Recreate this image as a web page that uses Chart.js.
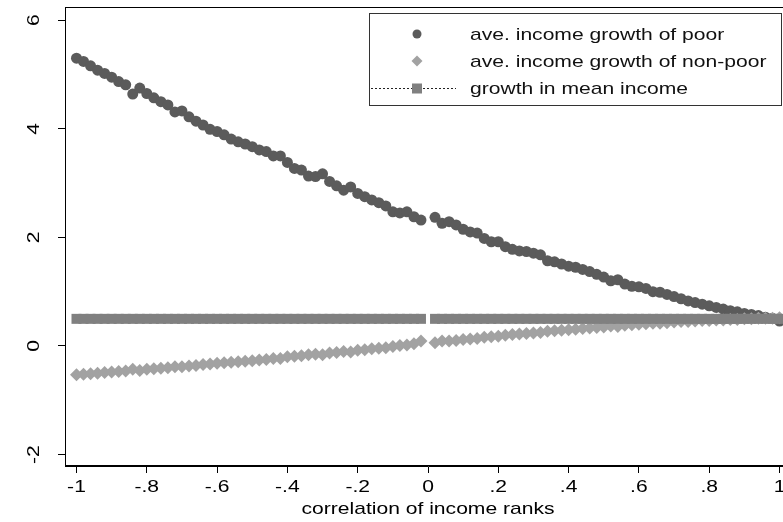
<!DOCTYPE html>
<html>
<head>
<meta charset="utf-8">
<script src="https://cdn.jsdelivr.net/npm/chart.js@4/dist/chart.umd.min.js"></script>
<style>
  html, body { margin: 0; padding: 0; background: #ffffff; overflow: hidden; }
  #chart { display: block; }
</style>
</head>
<body>
<canvas id="chart" width="792" height="522"></canvas>
<script>
// correlation of income ranks (x); the point at 0 is missing in every series
const rankCorr = [
  -1, -0.98, -0.96, -0.94, -0.92, -0.9, -0.88, -0.86, -0.84, -0.82,
  -0.8, -0.78, -0.76, -0.74, -0.72, -0.7, -0.68, -0.66, -0.64, -0.62,
  -0.6, -0.58, -0.56, -0.54, -0.52, -0.5, -0.48, -0.46, -0.44, -0.42,
  -0.4, -0.38, -0.36, -0.34, -0.32, -0.3, -0.28, -0.26, -0.24, -0.22,
  -0.2, -0.18, -0.16, -0.14, -0.12, -0.1, -0.08, -0.06, -0.04, -0.02,
  0,
  0.02, 0.04, 0.06, 0.08, 0.1, 0.12, 0.14, 0.16, 0.18, 0.2,
  0.22, 0.24, 0.26, 0.28, 0.3, 0.32, 0.34, 0.36, 0.38, 0.4,
  0.42, 0.44, 0.46, 0.48, 0.5, 0.52, 0.54, 0.56, 0.58, 0.6,
  0.62, 0.64, 0.66, 0.68, 0.7, 0.72, 0.74, 0.76, 0.78, 0.8,
  0.82, 0.84, 0.86, 0.88, 0.9, 0.92, 0.94, 0.96, 0.98, 1
];

// ave. income growth of poor
const growthPoor = [
  5.30, 5.24, 5.16, 5.08, 5.02, 4.95, 4.87, 4.81, 4.64, 4.75,
  4.65, 4.57, 4.50, 4.44, 4.31, 4.33, 4.22, 4.14, 4.07, 3.99,
  3.95, 3.89, 3.81, 3.76, 3.72, 3.67, 3.61, 3.58, 3.50, 3.50,
  3.38, 3.27, 3.24, 3.13, 3.12, 3.17, 3.03, 2.95, 2.87, 2.93,
  2.81, 2.75, 2.69, 2.64, 2.58, 2.47, 2.45, 2.47, 2.38, 2.32,
  null,
  2.37, 2.26, 2.29, 2.23, 2.15, 2.10, 2.08, 1.98, 1.92, 1.92,
  1.83, 1.78, 1.75, 1.74, 1.71, 1.68, 1.57, 1.55, 1.51, 1.47,
  1.45, 1.41, 1.37, 1.32, 1.27, 1.20, 1.22, 1.14, 1.10, 1.09,
  1.06, 1.00, 0.99, 0.95, 0.91, 0.87, 0.83, 0.80, 0.77, 0.74,
  0.71, 0.68, 0.65, 0.63, 0.60, 0.58, 0.56, 0.53, 0.51, 0.46
];

// ave. income growth of non-poor
const growthNonPoor = [
  -0.53, -0.52, -0.51, -0.50, -0.49, -0.48, -0.47, -0.46, -0.43, -0.45,
  -0.43, -0.42, -0.41, -0.40, -0.38, -0.38, -0.37, -0.36, -0.34, -0.33,
  -0.32, -0.31, -0.30, -0.29, -0.28, -0.27, -0.26, -0.25, -0.23, -0.23,
  -0.20, -0.19, -0.18, -0.16, -0.15, -0.16, -0.13, -0.12, -0.10, -0.11,
  -0.08, -0.07, -0.05, -0.04, -0.03, -0.01, 0.01, 0.02, 0.04, 0.09,
  null,
  0.06, 0.09, 0.09, 0.10, 0.12, 0.13, 0.14, 0.16, 0.17, 0.18,
  0.20, 0.21, 0.22, 0.23, 0.24, 0.25, 0.27, 0.28, 0.29, 0.30,
  0.31, 0.32, 0.33, 0.34, 0.35, 0.37, 0.36, 0.38, 0.39, 0.40,
  0.41, 0.42, 0.42, 0.43, 0.44, 0.45, 0.45, 0.46, 0.47, 0.47,
  0.48, 0.48, 0.49, 0.49, 0.50, 0.50, 0.51, 0.51, 0.51, 0.52
];

// growth in mean income
const growthMean = [
  0.5, 0.5, 0.5, 0.5, 0.5, 0.5, 0.5, 0.5, 0.5, 0.5,
  0.5, 0.5, 0.5, 0.5, 0.5, 0.5, 0.5, 0.5, 0.5, 0.5,
  0.5, 0.5, 0.5, 0.5, 0.5, 0.5, 0.5, 0.5, 0.5, 0.5,
  0.5, 0.5, 0.5, 0.5, 0.5, 0.5, 0.5, 0.5, 0.5, 0.5,
  0.5, 0.5, 0.5, 0.5, 0.5, 0.5, 0.5, 0.5, 0.5, 0.5,
  null,
  0.5, 0.5, 0.5, 0.5, 0.5, 0.5, 0.5, 0.5, 0.5, 0.5,
  0.5, 0.5, 0.5, 0.5, 0.5, 0.5, 0.5, 0.5, 0.5, 0.5,
  0.5, 0.5, 0.5, 0.5, 0.5, 0.5, 0.5, 0.5, 0.5, 0.5,
  0.5, 0.5, 0.5, 0.5, 0.5, 0.5, 0.5, 0.5, 0.5, 0.5,
  0.5, 0.5, 0.5, 0.5, 0.5, 0.5, 0.5, 0.5, 0.5, 0.5
];

const seriesNames = [
  'ave. income growth of poor',
  'ave. income growth of non-poor',
  'growth in mean income'
];

const xTickValues = [-1, -0.8, -0.6, -0.4, -0.2, 0, 0.2, 0.4, 0.6, 0.8, 1];
const xTickLabels = ['-1', '-.8', '-.6', '-.4', '-.2', '0', '.2', '.4', '.6', '.8', '1'];
const yTickValues = [-2, 0, 2, 4, 6];
const yTickLabels = ['-2', '0', '2', '4', '6'];
const xTitle = 'correlation of income ranks';

const FONT = '"Liberation Sans", Arial, Helvetica, sans-serif';
const TEXT_STRETCH = 1.24;   // glyphs are drawn a little wider than the face
const COL_POOR = '#5b5b5b';
const COL_NONPOOR = '#a2a2a2';
const COL_MEAN = '#808080';

const toPoints = ys => rankCorr.map((x, i) => ({ x: x, y: ys[i] }));

// draw every text run horizontally widened about its anchor point
const wideText = {
  id: 'wideText',
  beforeInit(chart) {
    const ctx = chart.ctx;
    if (ctx.__wide) return;
    const plain = ctx.fillText.bind(ctx);
    ctx.fillText = function (text, x, y) {
      this.save();
      this.translate(x, y);
      this.scale(TEXT_STRETCH, 1);
      plain(text, 0, 0);
      this.restore();
    };
    ctx.__wide = true;
  }
};

// plot region outline (top and right edges; left/bottom come from the axes)
const frame = {
  id: 'frame',
  beforeDatasetsDraw(chart) {
    const { ctx, chartArea: a } = chart;
    ctx.save();
    ctx.strokeStyle = '#000';
    ctx.lineWidth = 1;
    ctx.strokeRect(Math.round(a.left) + 0.5, Math.round(a.top) + 0.5,
                   Math.round(a.right - a.left) - 1, Math.round(a.bottom - a.top) - 1);
    ctx.restore();
  }
};

// boxed legend in the upper right of the plot region
const boxLegend = {
  id: 'boxLegend',
  afterDatasetsDraw(chart) {
    const ctx = chart.ctx;
    const box = { x: 369.5, y: 13.5, w: 412, h: 92 };
    const mx = 417, tx = 470;
    const rows = [34, 61, 88];
    ctx.save();
    ctx.fillStyle = '#fff';
    ctx.fillRect(box.x, box.y, box.w, box.h);
    ctx.strokeStyle = '#333';
    ctx.lineWidth = 1;
    ctx.strokeRect(box.x, box.y, box.w, box.h);

    // circle
    ctx.fillStyle = COL_POOR;
    ctx.beginPath();
    ctx.arc(mx, rows[0], 4.5, 0, Math.PI * 2);
    ctx.fill();
    // diamond
    ctx.fillStyle = COL_NONPOOR;
    ctx.beginPath();
    ctx.moveTo(mx - 5.5, rows[1]);
    ctx.lineTo(mx, rows[1] - 5.5);
    ctx.lineTo(mx + 5.5, rows[1]);
    ctx.lineTo(mx, rows[1] + 5.5);
    ctx.closePath();
    ctx.fill();
    // dotted line with square
    ctx.strokeStyle = '#222';
    ctx.setLineDash([2, 2]);
    ctx.beginPath();
    ctx.moveTo(371, rows[2] + 0.5);
    ctx.lineTo(456, rows[2] + 0.5);
    ctx.stroke();
    ctx.setLineDash([]);
    ctx.fillStyle = COL_MEAN;
    ctx.fillRect(mx - 5, rows[2] - 4.5, 10, 10);

    ctx.fillStyle = '#111';
    ctx.font = '17px ' + FONT;
    ctx.textBaseline = 'middle';
    ctx.textAlign = 'left';
    seriesNames.forEach((name, i) => ctx.fillText(name, tx, rows[i] + 1));
    ctx.restore();
  }
};

new Chart(document.getElementById('chart'), {
  type: 'line',
  data: {
    datasets: [
      {
        label: seriesNames[0],
        data: toPoints(growthPoor),
        showLine: false,
        pointStyle: 'circle',
        pointRadius: 5.5,
        pointBorderWidth: 0,
        pointBackgroundColor: COL_POOR,
        pointBorderColor: COL_POOR,
        order: 3
      },
      {
        label: seriesNames[1],
        data: toPoints(growthNonPoor),
        showLine: false,
        pointStyle: 'rectRot',
        pointRadius: 6.5,
        pointBorderWidth: 0,
        pointBackgroundColor: COL_NONPOOR,
        pointBorderColor: COL_NONPOOR,
        order: 2
      },
      {
        label: seriesNames[2],
        data: toPoints(growthMean),
        showLine: true,
        spanGaps: false,
        borderColor: '#222',
        borderWidth: 1,
        borderDash: [2, 2],
        pointStyle: 'rect',
        pointRadius: 7.07,
        pointBorderWidth: 0,
        pointBackgroundColor: COL_MEAN,
        pointBorderColor: COL_MEAN,
        order: 1
      }
    ]
  },
  options: {
    responsive: false,
    maintainAspectRatio: false,
    devicePixelRatio: 1,
    animation: false,
    events: [],
    layout: { autoPadding: false, padding: { top: 7, right: 1, left: 0, bottom: 0 } },
    plugins: {
      legend: { display: false },
      tooltip: { enabled: false }
    },
    scales: {
      x: {
        type: 'linear',
        min: -1.0327,
        max: 1.0327,
        afterFit(scale) {
          scale.height = 56;
          scale.paddingLeft = 0;
          scale.paddingRight = 0;
        },
        afterBuildTicks(scale) { scale.ticks = xTickValues.map(v => ({ value: v })); },
        grid: { drawOnChartArea: false, drawTicks: true, tickLength: 7, tickColor: '#000', tickWidth: 1 },
        border: { display: true, color: '#000', width: 1 },
        ticks: {
          color: '#000',
          font: { family: FONT, size: 17 },
          padding: 4,
          maxRotation: 0,
          minRotation: 0,
          autoSkip: false,
          callback: (v, i) => xTickLabels[i]
        },
        title: {
          display: true,
          text: xTitle,
          color: '#000',
          font: { family: FONT, size: 17 },
          padding: { top: 0, bottom: 2 }
        }
      },
      y: {
        type: 'linear',
        min: -2.21,
        max: 6.243,
        afterFit(scale) {
          scale.width = 65;
          scale.paddingTop = 0;
          scale.paddingBottom = 0;
        },
        afterBuildTicks(scale) { scale.ticks = yTickValues.map(v => ({ value: v })); },
        grid: { drawOnChartArea: false, drawTicks: true, tickLength: 7, tickColor: '#000', tickWidth: 1 },
        border: { display: true, color: '#000', width: 1 },
        ticks: {
          color: '#000',
          font: { family: FONT, size: 17 },
          padding: 16,
          minRotation: 90,
          maxRotation: 90,
          crossAlign: 'center',
          autoSkip: false,
          callback: (v, i) => yTickLabels[i]
        }
      }
    }
  },
  plugins: [wideText, frame, boxLegend]
});
</script>
</body>
</html>
